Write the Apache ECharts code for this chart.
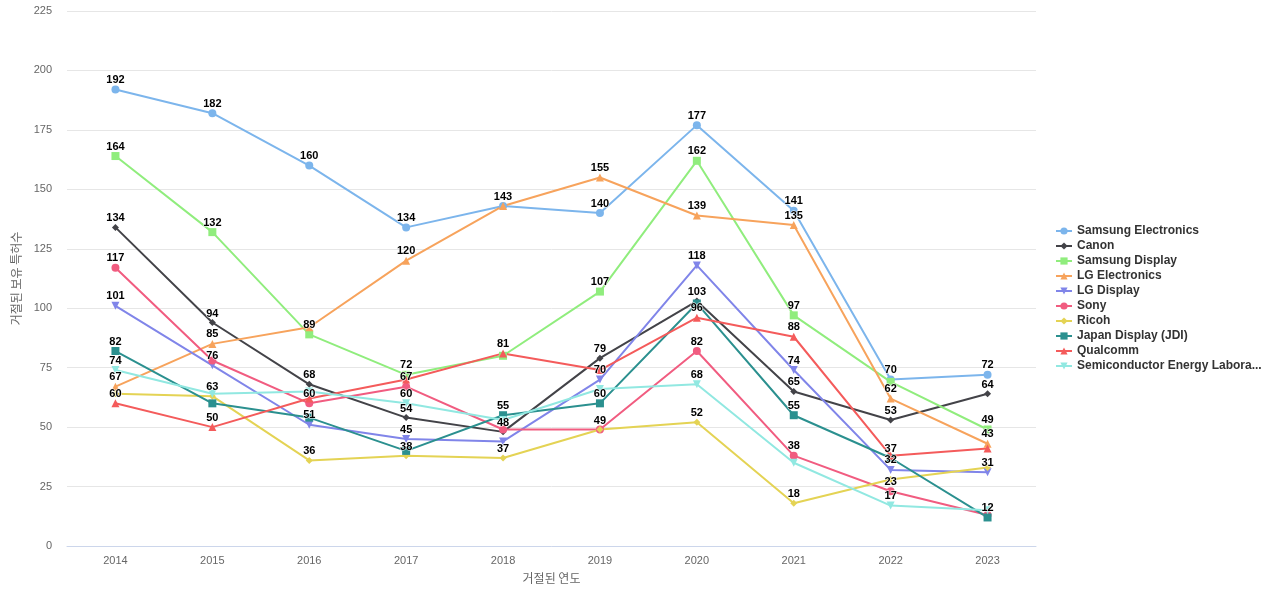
<!DOCTYPE html>
<html><head><meta charset="utf-8">
<script src="https://cdn.jsdelivr.net/npm/echarts@6/dist/echarts.min.js"></script>
<style>html,body{margin:0;padding:0;background:#fff}#c{width:1280px;height:600px}</style>
</head><body><div id="c"></div>
<script>
const years = ['2014','2015','2016','2017','2018','2019','2020','2021','2022','2023'];
const seriesNames = ['Samsung Electronics','Canon','Samsung Display','LG Electronics','LG Display','Sony','Ricoh','Japan Display (JDI)','Qualcomm','Semiconductor Energy Laboratory'];
const samsungElectronics = [192,182,160,134,143,140,177,141,70,72];
const canon = [134,94,68,54,48,79,103,65,53,64];
const samsungDisplay = [164,132,89,72,80,107,162,97,69,49];
const lgElectronics = [67,85,92,120,143,155,139,135,62,43];
const lgDisplay = [101,76,51,45,44,70,118,74,32,31];
const sony = [117,78,60,67,49,49,82,38,23,13];
const ricoh = [64,63,36,38,37,49,52,18,28,33];
const jdi = [82,60,54,40,55,60,102,55,37,12];
const qualcomm = [60,50,62,70,81,74,96,88,38,41];
const sel = [74,64,65,60,53,66,68,35,17,15];
const yTicks = [0,25,50,75,100,125,150,175,200,225];
// labels hidden in the reference because of overlap: [seriesIndex, yearIndex]
const hiddenLabels = [[6,0],[5,1],[7,1],[9,1],[3,2],[7,2],[8,2],[9,2],[8,3],[7,3],
  [0,4],[2,4],[4,4],[5,4],[9,4],[8,5],[9,5],[5,5],[7,6],[9,7],[2,8],[6,8],[8,8],
  [5,9],[6,9],[8,9],[9,9]];

const values = [samsungElectronics,canon,samsungDisplay,lgElectronics,lgDisplay,sony,ricoh,jdi,qualcomm,sel];
const colors = ['#7cb5ec','#434348','#90ed7d','#f7a35c','#8085e9','#f15c80','#e4d354','#2b908f','#f45b5b','#91e8e1'];
const symbols = ['circle','diamond','rect','triangle','path://M0,0 L10,0 L5,10 Z','circle','diamond','rect','triangle','path://M0,0 L10,0 L5,10 Z'];
const symSizes = [8,7,8,8,8,8,7,8,8,8];

const series = values.map((arr, si) => ({
  name: seriesNames[si],
  type: 'line',
  symbol: symbols[si],
  symbolSize: symSizes[si],
  showAllSymbol: true,
  lineStyle: {width: 2, color: colors[si]},
  itemStyle: {color: colors[si]},
  label: {show: true, position: 'top', distance: 0, color: '#000', fontWeight: 'bold', fontSize: 11,
          fontFamily: 'Liberation Sans, Arial, sans-serif', textBorderColor: '#fff', textBorderWidth: 1},
  data: arr.map((v, yi) => hiddenLabels.some(h => h[0] === si && h[1] === yi) ? {value: v, label: {show: false}} : v),
  emphasis: {disabled: true}
}));

const chart = echarts.init(document.getElementById('c'));
chart.setOption({
  animation: false,
  color: colors,
  textStyle: {fontFamily: 'Liberation Sans, Arial, sans-serif'},
  grid: {left: 67, right: 244, top: 11, bottom: 54},
  legend: {
    orient: 'vertical', top: 225, left: 1055, padding: 0,
    itemWidth: 16, itemHeight: 9, itemGap: 3,
    textStyle: {fontSize: 12, fontWeight: 'bold', color: '#333', width: 190, overflow: 'truncate', ellipsis: '...'},
    data: seriesNames
  },
  xAxis: {
    type: 'category', data: years, boundaryGap: true,
    name: '거절된 연도', nameLocation: 'middle', nameGap: 26,
    nameTextStyle: {color: '#666', fontSize: 12, fontFamily: 'Noto Sans CJK KR'},
    axisLine: {lineStyle: {color: '#ccd6eb'}},
    axisTick: {show: false},
    axisLabel: {color: '#666', fontSize: 11, margin: 9}
  },
  yAxis: {
    type: 'value', min: yTicks[0], max: yTicks[yTicks.length-1], interval: 25,
    name: '거절된 보유 특허수', nameLocation: 'middle', nameGap: 29,
    nameTextStyle: {color: '#666', fontSize: 12, fontFamily: 'Noto Sans CJK KR'},
    axisLine: {show: false}, axisTick: {show: false},
    splitLine: {lineStyle: {color: '#e6e6e6'}},
    axisLabel: {color: '#666', fontSize: 11, margin: 15}
  },
  series: series
});
</script>
</body></html>
